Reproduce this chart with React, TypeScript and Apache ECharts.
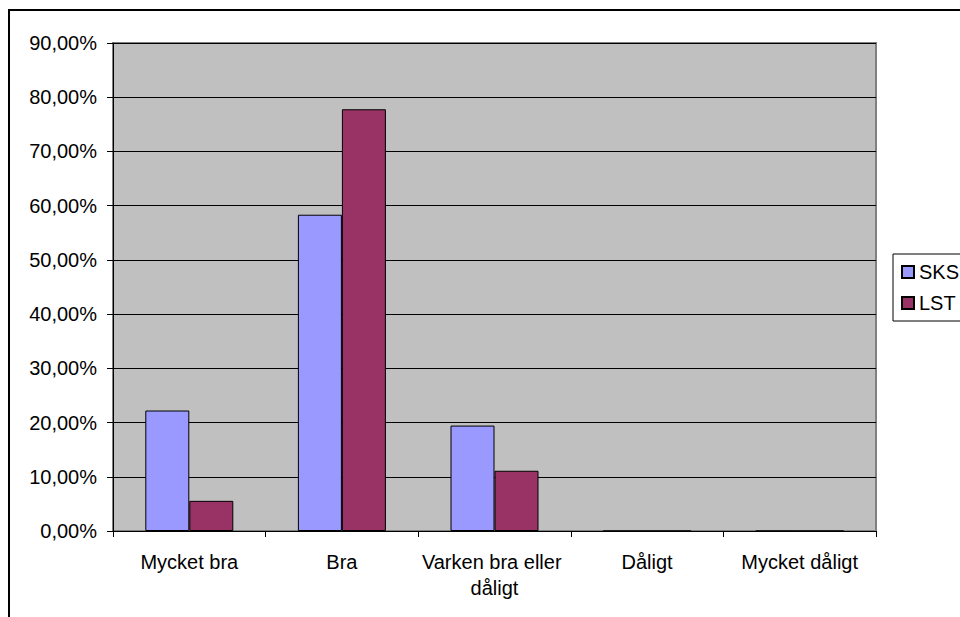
import React, { useEffect, useRef } from "react";
import * as echarts from "echarts";

const categories = ["Mycket bra", "Bra", "Varken bra eller dåligt", "Dåligt", "Mycket dåligt"];
const seriesNames = ["SKS", "LST"];
const sksValues = [22.22, 58.33, 19.44, 0, 0];
const lstValues = [5.56, 77.78, 11.11, 0, 0];
const seriesColors = ["#9999FF", "#993366"];

const FONT = "'Liberation Sans', Arial, sans-serif";

export default function App() {
  const ref = useRef<HTMLDivElement>(null);
  useEffect(() => {
    if (!ref.current) return;
    const chart = echarts.init(ref.current, undefined, { renderer: "svg" });
    const values = [sksValues, lstValues];
    chart.setOption({
      animation: false,
      backgroundColor: "#FFFFFF",
      textStyle: { fontFamily: FONT },
      graphic: [
        {
          type: "rect",
          shape: { x: 9, y: 10, width: 1200, height: 800 },
          style: { fill: "none", stroke: "#000000", lineWidth: 2 },
          z: 100,
        },
      ],
      grid: {
        left: 113,
        top: 43,
        width: 763,
        height: 488,
        show: true,
        backgroundColor: "#C0C0C0",
        borderColor: "#808080",
        borderWidth: 2,
      },
      legend: {
        orient: "vertical",
        left: 893,
        top: 254,
        padding: [8, 8, 8, 8],
        itemGap: 11,
        itemWidth: 12,
        itemHeight: 12,
        icon: "rect",
        backgroundColor: "#FFFFFF",
        borderColor: "#000000",
        borderWidth: 1,
        textStyle: { fontFamily: FONT, fontSize: 20, color: "#000000" },
        data: seriesNames,
      },
      xAxis: {
        type: "category",
        data: categories,
        boundaryGap: true,
        axisLine: { show: true, lineStyle: { color: "#000000", width: 1 } },
        axisTick: { show: true, length: 6, alignWithLabel: false, lineStyle: { color: "#000000" } },
        axisLabel: {
          interval: 0,
          margin: 18,
          fontFamily: FONT,
          fontSize: 20,
          lineHeight: 26,
          color: "#000000",
          width: 165,
          overflow: "break",
        },
        splitLine: { show: false },
      },
      yAxis: {
        type: "value",
        min: 0,
        max: 90,
        interval: 10,
        axisLine: { show: true, lineStyle: { color: "#000000", width: 1 } },
        axisTick: { show: true, length: 6, lineStyle: { color: "#000000" } },
        axisLabel: {
          margin: 16,
          fontFamily: FONT,
          fontSize: 20,
          color: "#000000",
          formatter: (v: number) => v.toFixed(2).replace(".", ",") + "%",
        },
        splitLine: { show: true, lineStyle: { color: "#000000", width: 1 } },
      },
      series: seriesNames.map((name, i) => ({
        name,
        type: "bar",
        data: values[i],
        barWidth: 44,
        barGap: "0%",
        itemStyle: { color: seriesColors[i], borderColor: "#000000", borderWidth: 1 },
      })),
    });
    return () => chart.dispose();
  }, []);
  return (
    <div
      ref={ref}
      style={{ position: "fixed", left: 0, top: 0, width: 960, height: 617 }}
    />
  );
}
